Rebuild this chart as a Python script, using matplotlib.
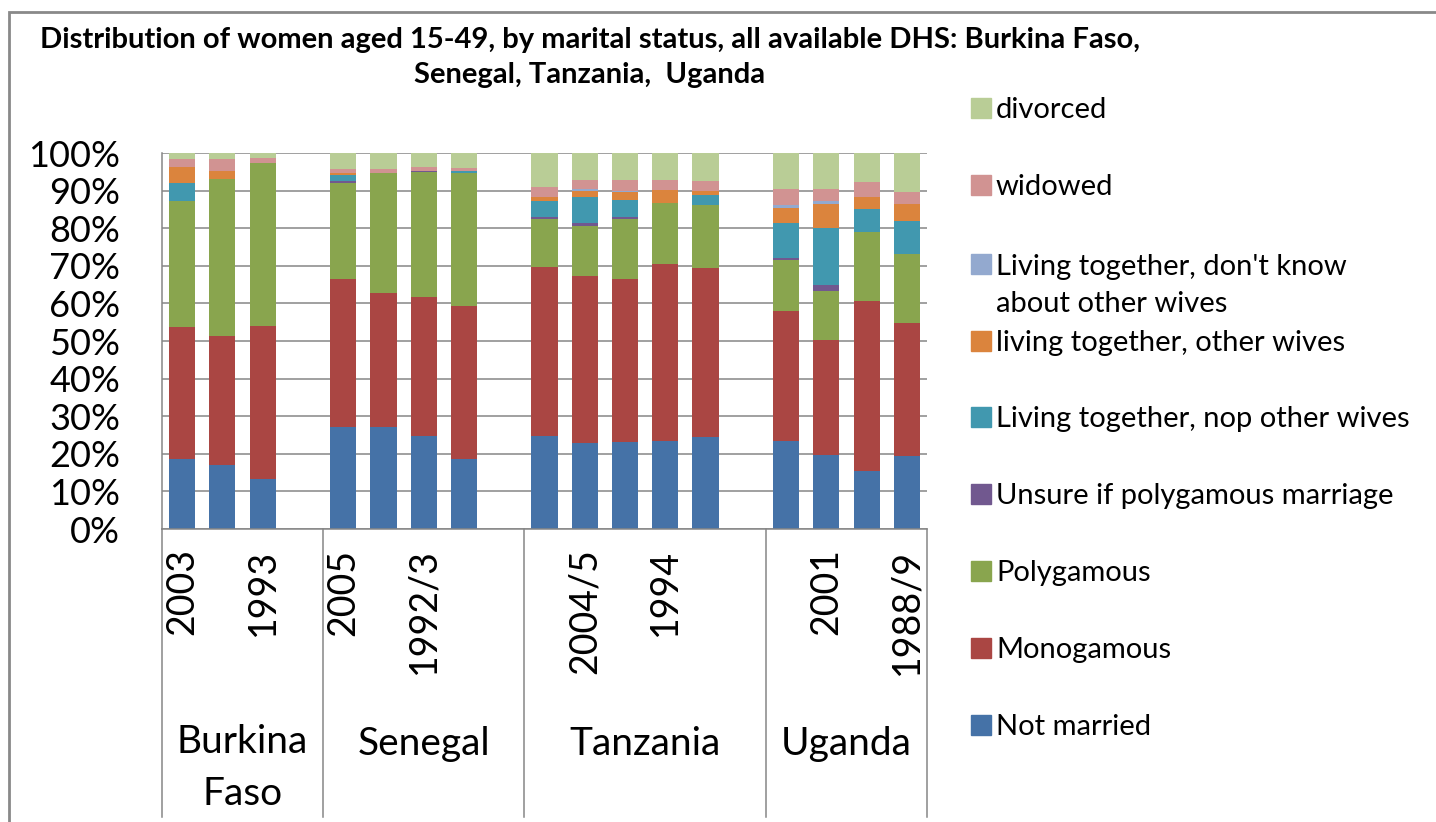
import numpy as np
import matplotlib
matplotlib.use('Agg')
import matplotlib.pyplot as plt
from matplotlib.patches import Rectangle
from matplotlib.transforms import blended_transform_factory

plt.rcParams['font.family'] = ['Lato', 'DejaVu Sans']

# slots: 3 Burkina, gap, 4 Senegal, gap, 5 Tanzania, gap, 4 Uganda
bar_slots = [0, 1, 2, 4, 5, 6, 7, 9, 10, 11, 12, 13, 15, 16, 17, 18]
year_labels = ['2003', '', '1993', '', '2005', '', '1992/3', '', '', '',
               '2004/5', '', '1994', '', '', '', '2001', '', '1988/9']
countries = ['Burkina\nFaso', 'Senegal', 'Tanzania', 'Uganda']
country_edges = [-0.5, 3.5, 8.5, 14.5, 18.5]

# percent of women, one value per survey (bar)
not_married = [18.5, 16.9, 13.3, 27.0, 27.2, 24.8, 18.6, 24.8, 22.9, 23.2, 23.4, 24.5, 23.4, 19.7, 15.4, 19.5]
monogamous = [35.3, 34.5, 40.8, 39.5, 35.6, 37.0, 40.8, 44.9, 44.4, 43.3, 47.1, 45.0, 34.6, 30.6, 45.3, 35.3]
polygamous = [33.5, 41.6, 43.2, 25.6, 32.0, 33.2, 35.4, 12.8, 13.4, 16.0, 16.3, 16.7, 13.6, 13.1, 18.4, 18.4]
unsure = [0, 0, 0, 0.4, 0, 0.3, 0, 0.6, 0.8, 0.6, 0, 0, 0.5, 1.6, 0, 0]
lt_no_other = [4.8, 0, 0, 1.6, 0, 0, 0.3, 4.2, 6.9, 4.5, 0, 2.5, 9.4, 15.1, 6.1, 8.8]
lt_other = [4.1, 2.1, 0, 0.5, 0, 0, 0, 1.1, 1.6, 2.1, 3.4, 1.1, 3.9, 6.4, 3.2, 4.5]
lt_dont_know = [0, 0, 0, 0, 0, 0, 0, 0, 0.3, 0.3, 0, 0, 0.8, 0.8, 0, 0]
widowed = [2.1, 3.2, 1.5, 1.2, 1.0, 1.1, 1.0, 2.6, 2.4, 2.9, 2.7, 2.8, 4.3, 3.2, 4.0, 3.2]
divorced = [1.7, 1.7, 1.2, 4.2, 4.2, 3.6, 3.9, 9.0, 7.4, 7.1, 7.1, 7.4, 9.5, 9.5, 7.6, 10.3]

series = [
    ('Not married', not_married, '#4572A7'),
    ('Monogamous', monogamous, '#AA4643'),
    ('Polygamous', polygamous, '#89A54E'),
    ('Unsure if polygamous marriage', unsure, '#71588F'),
    ('Living together, nop other wives', lt_no_other, '#4198AF'),
    ('living together, other wives', lt_other, '#DB843D'),
    ("Living together, don't know\nabout other wives", lt_dont_know, '#93A9CF'),
    ('widowed', widowed, '#D19392'),
    ('divorced', divorced, '#B9CD96'),
]

W, H = 1436, 822
fig = plt.figure(figsize=(W / 100, H / 100), dpi=100)
ax = fig.add_axes([162 / W, 1 - 529 / H, (927 - 162) / W, 376 / H])

bottom = np.zeros(len(bar_slots))
for name, vals, col in series:
    ax.bar(bar_slots, vals, width=0.65, bottom=bottom, color=col, zorder=2)
    bottom += np.array(vals)

grid_col = '#868686'
ax.set_xlim(-0.5, 18.5)
ax.set_ylim(0, 100)
ax.set_yticks(np.arange(0, 101, 10))
ax.set_yticklabels(['{}%'.format(v) for v in range(0, 101, 10)], fontsize=26)
ax.yaxis.grid(True, color=grid_col, lw=1.1, zorder=0)
ax.tick_params(axis='y', length=0, pad=30)
ax.set_xticks(range(19))
ax.set_xticklabels(year_labels, rotation=90, fontsize=27)
ax.tick_params(axis='x', length=0, pad=14)
for s in ['top', 'right']:
    ax.spines[s].set_visible(False)
for s in ['left', 'bottom']:
    ax.spines[s].set_color(grid_col)
    ax.spines[s].set_linewidth(1.1)

# category separators below the axis
tr = blended_transform_factory(ax.transData, ax.transAxes)
for xe in country_edges:
    ax.plot([xe, xe], [0, -0.765], color=grid_col, lw=1.1, transform=tr, clip_on=False)
for i, c in enumerate(countries):
    xc = (country_edges[i] + country_edges[i + 1]) / 2
    # baseline of the last line
    base = 755 + 50 * c.count('\n')
    ax.text(xc, (529 - base) / 376, c, transform=tr, ha='center', va='baseline',
            fontsize=28, linespacing=1.55)

# title
fig.text(590 / W, 1 - 83 / H,
         'Distribution of women aged 15-49, by marital status, all available DHS: Burkina Faso,\n'
         'Senegal, Tanzania,  Uganda',
         ha='center', va='baseline', fontsize=21, fontweight='bold', linespacing=1.42,
         multialignment='center')

# legend drawn by hand (Excel style)
leg_y = [725, 648, 571, 494, 417, 341, 264, 185, 108]
sq = 20
for (name, vals, col), yc in zip(series, leg_y):
    fig.add_artist(Rectangle(((981 - sq / 2) / W, 1 - (yc + sq / 2) / H), sq / W, sq / H,
                             color=col, transform=fig.transFigure))
    base = yc + 10 + 38 * name.count('\n')
    fig.text(996 / W, 1 - base / H, name, ha='left', va='baseline', fontsize=21,
             linespacing=1.5)

# outer border of chart area
fig.add_artist(Rectangle((9 / W, -0.1), 1.2, 1 - 12 / H + 0.1, fill=False,
                         ec='#898989', lw=2, transform=fig.transFigure))

fig.savefig('out.png', dpi=100)
